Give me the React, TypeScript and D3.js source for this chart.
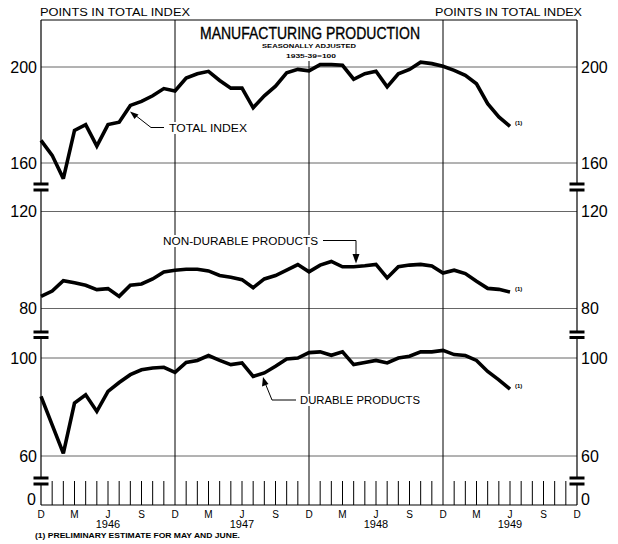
import * as d3 from "d3";
import type { ReactElement } from "react";

// monthly values, Dec 1945 .. Jun 1949 (index 0..42)
const totalIndex = [
  169.4, 163.2, 153.5, 173.6, 176, 167, 176, 177, 184, 185.7, 188, 191, 190,
  195.4, 197.2, 198.2, 194.4, 191.2, 191.2, 183, 188, 192, 197.6, 199, 198.4,
  201, 201, 200.7, 194.9, 197.2, 198.2, 191.7, 197.2, 199, 202, 201.4, 200.3,
  198.6, 196.5, 193, 184.7, 179.2, 175.3,
];

const nonDurable = [
  85, 87.2, 91.5, 90.6, 89.6, 87.8, 88.2, 85, 89.6, 90.1, 92.2, 95.1, 95.8,
  96.2, 96.2, 95.5, 93.6, 92.9, 91.9, 88.6, 92.2, 93.6, 95.8, 98.1, 95.1,
  97.9, 99.4, 97.2, 97.2, 97.6, 98.2, 92.6, 97.2, 97.9, 98.2, 97.5, 94.6,
  95.8, 94.4, 91.2, 88.3, 87.9, 86.8,
];

const durable = [
  84.3, 72.7, 61.1, 81.6, 85, 78.2, 86.4, 90, 93.2, 95.2, 95.9, 96.2, 94.1,
  98.2, 99, 101, 99, 97.3, 98, 92.5, 93.9, 96.6, 99.6, 100, 102.2, 102.5,
  101.1, 102.5, 97.3, 98.2, 99, 98, 100, 100.7, 102.5, 102.5, 103.1, 101.4,
  101, 99, 94.5, 91.1, 87.3,
];

const quarterLabels = ["D", "M", "J", "S", "D", "M", "J", "S", "D", "M", "J", "S", "D", "M", "J", "S", "D"];
const yearLabels = ["1946", "1947", "1948", "1949"];
const totalTicks = [200, 160];
const nonDurTicks = [120, 80];
const durTicks = [100, 60];

const W = 618;
const H = 544;
const X0 = 41;
const X1 = 577;
const TOP = 20;
const BASE = 505;
const FONT = "'Liberation Sans', Arial, sans-serif";

const x = d3.scaleLinear().domain([0, 48]).range([X0, X1]);
const yTotal = d3.scaleLinear().domain([160, 200]).range([163, 67]);
const yNonDur = d3.scaleLinear().domain([80, 120]).range([308.5, 211.5]);
const yDur = d3.scaleLinear().domain([60, 100]).range([456, 358]);

const lineFor = (scale: d3.ScaleLinear<number, number>) =>
  d3.line<number>().x((_, i) => x(i)).y((d) => scale(d));

const BreakMark = ({ cx, y1, y2 }: { cx: number; y1: number; y2: number }): ReactElement => (
  <g>
    <rect x={cx - 8} y={y1} width={16} height={y2 - y1} fill="#fff" />
    <rect x={cx - 7.5} y={y1 - 1.5} width={15} height={3} fill="#000" />
    <rect x={cx - 7.5} y={y2 - 1.5} width={15} height={3} fill="#000" />
  </g>
);

export default function App(): ReactElement {
  const series = [
    { data: totalIndex, scale: yTotal },
    { data: nonDurable, scale: yNonDur },
    { data: durable, scale: yDur },
  ];
  const gridRows = [
    ...totalTicks.map((t) => ({ t, y: yTotal(t) })),
    ...nonDurTicks.map((t) => ({ t, y: yNonDur(t) })),
    ...durTicks.map((t) => ({ t, y: yDur(t) })),
  ];
  const months = d3.range(1, 48);
  const breaks = [
    [184, 190],
    [332, 337.5],
    [478, 484],
  ];

  return (
    <svg
      width={W}
      height={H}
      viewBox={`0 0 ${W} ${H}`}
      style={{ position: "absolute", left: 0, top: 0, background: "#fff" }}
      fontFamily={FONT}
    >
      <rect width={W} height={H} fill="#fff" />

      {/* header */}
      <text x={40} y={16} fontSize={10} textLength={150} lengthAdjust="spacingAndGlyphs">
        POINTS IN TOTAL INDEX
      </text>
      <text x={435} y={16} fontSize={10} textLength={147} lengthAdjust="spacingAndGlyphs">
        POINTS IN TOTAL INDEX
      </text>
      <line x1={X0} x2={X1} y1={TOP} y2={TOP} stroke="#000" strokeWidth={1} />

      <text
        x={200}
        y={39}
        fontSize={17}
        textLength={220}
        lengthAdjust="spacingAndGlyphs"
        stroke="#000"
        strokeWidth={0.35}
      >
        MANUFACTURING PRODUCTION
      </text>
      <text x={262} y={48} fontSize={6} fontWeight="bold" textLength={94} lengthAdjust="spacingAndGlyphs">
        SEASONALLY ADJUSTED
      </text>
      <text x={286} y={57.5} fontSize={6} fontWeight="bold" textLength={50} lengthAdjust="spacingAndGlyphs">
        1935-39=100
      </text>

      {/* horizontal grid */}
      {gridRows.map((r) => (
        <line key={`g${r.y}`} x1={X0} x2={X1} y1={r.y} y2={r.y} stroke="#555" strokeWidth={0.9} />
      ))}

      {/* december verticals */}
      {[12, 24, 36].map((m) => (
        <line
          key={`v${m}`}
          x1={x(m)}
          x2={x(m)}
          y1={m === 24 ? 61 : TOP}
          y2={BASE}
          stroke="#000"
          strokeWidth={1}
        />
      ))}

      {/* month ticks */}
      {months
        .filter((m) => m % 12 !== 0)
        .map((m) => (
          <line key={`t${m}`} x1={x(m)} x2={x(m)} y1={481} y2={BASE} stroke="#000" strokeWidth={1} />
        ))}

      {/* axes */}
      <line x1={X0} x2={X0} y1={TOP} y2={BASE} stroke="#000" strokeWidth={1.2} />
      <line x1={X1} x2={X1} y1={TOP} y2={BASE} stroke="#000" strokeWidth={1.2} />
      <line x1={X0} x2={X1} y1={BASE} y2={BASE} stroke="#000" strokeWidth={1.2} />

      {breaks.map(([a, b]) => (
        <g key={`b${a}`}>
          <BreakMark cx={X0} y1={a} y2={b} />
          <BreakMark cx={X1} y1={a} y2={b} />
        </g>
      ))}

      {/* y labels */}
      {gridRows.map((r) => (
        <g key={`l${r.y}`} fontSize={16}>
          <text x={37} y={r.y} textAnchor="end" dominantBaseline="central">
            {r.t}
          </text>
          <text x={581} y={r.y} dominantBaseline="central">
            {r.t}
          </text>
        </g>
      ))}
      <text x={36} y={505} textAnchor="end" fontSize={16}>0</text>
      <text x={581} y={505} fontSize={16}>0</text>

      {/* month + year labels */}
      {quarterLabels.map((q, i) => (
        <text key={`q${i}`} x={x(i * 3)} y={517.5} fontSize={10} textAnchor="middle">
          {q}
        </text>
      ))}
      {yearLabels.map((yr, i) => (
        <text key={yr} x={x(6 + i * 12)} y={528} fontSize={11} textAnchor="middle">
          {yr}
        </text>
      ))}
      <text x={35} y={537.5} fontSize={6.5} fontWeight="bold" textLength={205} lengthAdjust="spacingAndGlyphs">
        (1) PRELIMINARY ESTIMATE FOR MAY AND JUNE.
      </text>

      {/* series */}
      {series.map((s, i) => (
        <g key={`s${i}`}>
          <path
            d={lineFor(s.scale)(s.data) ?? ""}
            fill="none"
            stroke="#000"
            strokeWidth={3.6}
            strokeLinejoin="miter"
            strokeMiterlimit={3}
          />
          <text
            x={x(s.data.length - 1) + 5}
            y={s.scale(s.data[s.data.length - 1]) - 1}
            fontSize={6}
            fontWeight="bold"
          >
            (1)
          </text>
        </g>
      ))}

      {/* callouts */}
      <rect x={166} y={122} width={84} height={12} fill="#fff" />
      <text x={169} y={132} fontSize={10} textLength={78} lengthAdjust="spacingAndGlyphs">
        TOTAL INDEX
      </text>
      <polyline points="164,127.5 151,127.5 135,115" fill="none" stroke="#000" strokeWidth={1} />
      <polygon points="130,111.5 138.5,114.5 134.5,119" fill="#000" />

      <rect x={160} y={235} width={161} height={12} fill="#fff" />
      <text x={163} y={245} fontSize={10} textLength={155} lengthAdjust="spacingAndGlyphs">
        NON-DURABLE PRODUCTS
      </text>
      <polyline points="323,240.5 356,240.5 356,256" fill="none" stroke="#000" strokeWidth={1} />
      <polygon points="356,263.5 352.5,254 359.5,254" fill="#000" />

      <rect x={298} y={394} width={125} height={12} fill="#fff" />
      <text x={300} y={404} fontSize={10} textLength={120} lengthAdjust="spacingAndGlyphs">
        DURABLE PRODUCTS
      </text>
      <polyline points="296,400 272,400 265.5,384" fill="none" stroke="#000" strokeWidth={1} />
      <polygon points="263,377 262,386.5 268.5,384" fill="#000" />
    </svg>
  );
}
